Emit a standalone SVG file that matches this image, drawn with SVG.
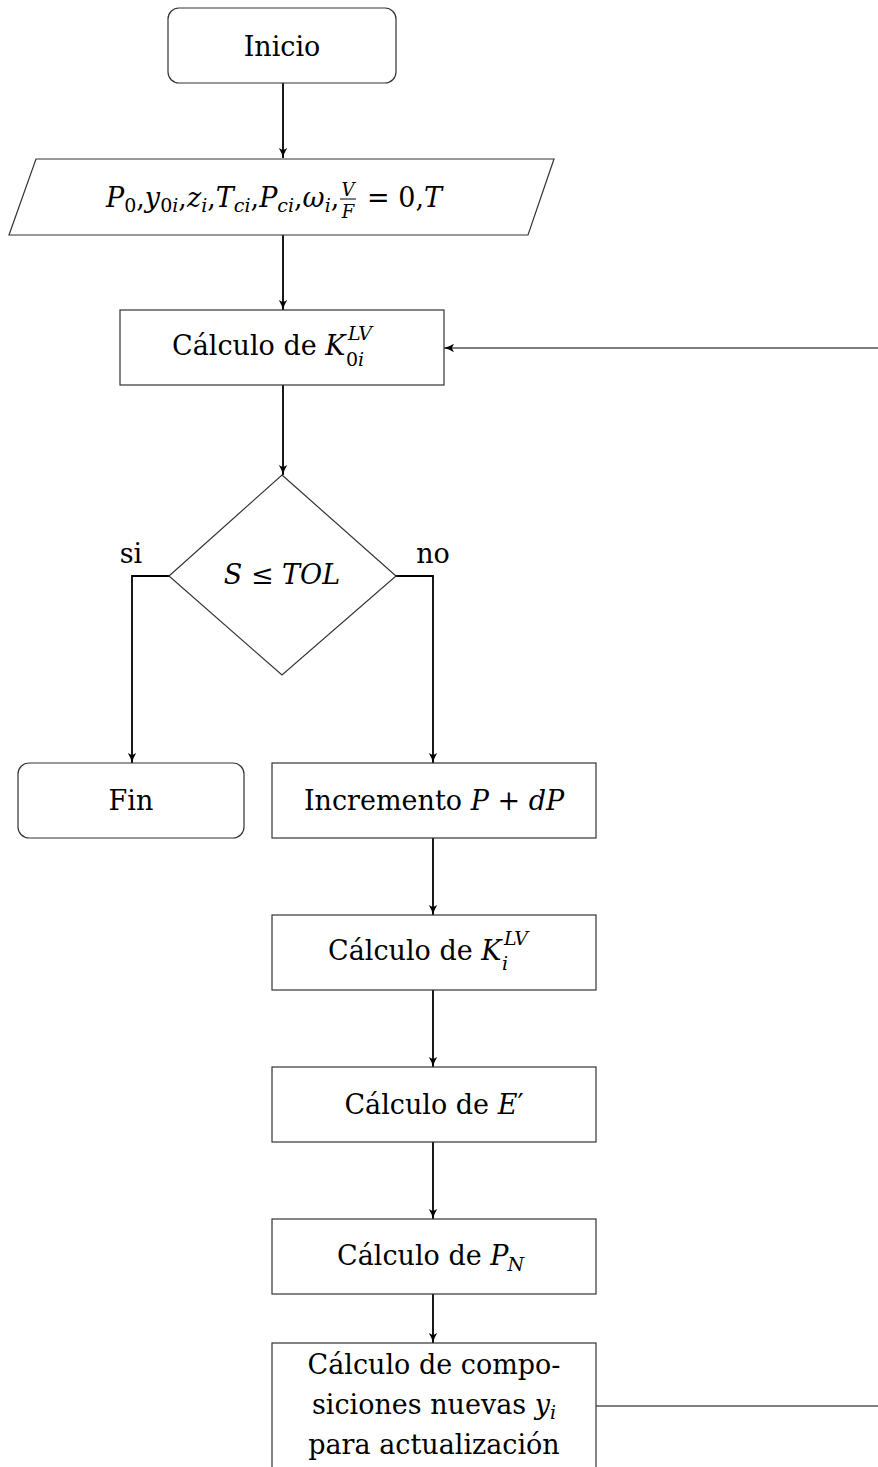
<svg xmlns="http://www.w3.org/2000/svg" width="878" height="1467" viewBox="0 0 878 1467" font-family="'DejaVu Serif', 'Liberation Serif', serif">
<style>
text{font-family:"DejaVu Serif","Liberation Serif",serif;font-size:27px;fill:#000}
.it{font-style:italic}
.sm{font-size:19px}
.xs{font-size:18px}
.node{fill:#fff;stroke:#333;stroke-width:1.2}
.conn{fill:none;stroke:#000;stroke-width:1.8}
.thin{fill:none;stroke:#000;stroke-width:1.2}
.mid{text-anchor:middle}
</style>
<defs>
<marker id="ah" viewBox="0 0 10 10" refX="10" refY="5" markerWidth="10" markerHeight="10" markerUnits="userSpaceOnUse" orient="auto">
<path d="M0,0.8 Q5,4 10,5 Q5,6 0,9.2 L2.2,5 Z" fill="#000"/>
</marker>
</defs>
<rect width="878" height="1467" fill="#fff"/>
<g id="connectors">
<line class="conn" x1="283" y1="83" x2="283" y2="158" marker-end="url(#ah)"/>
<line class="conn" x1="283" y1="235" x2="283" y2="310" marker-end="url(#ah)"/>
<line class="conn" x1="283" y1="385" x2="283" y2="475" marker-end="url(#ah)"/>
<polyline class="conn" points="169,576 132,576 132,763" marker-end="url(#ah)"/>
<polyline class="conn" points="396,576 433,576 433,763" marker-end="url(#ah)"/>
<line class="conn" x1="433" y1="838" x2="433" y2="915" marker-end="url(#ah)"/>
<line class="conn" x1="433" y1="990" x2="433" y2="1067" marker-end="url(#ah)"/>
<line class="conn" x1="433" y1="1142" x2="433" y2="1219" marker-end="url(#ah)"/>
<line class="conn" x1="433" y1="1294" x2="433" y2="1343" marker-end="url(#ah)"/>
<line class="thin" x1="596" y1="1406" x2="878" y2="1406"/>
<line class="thin" x1="878" y1="348" x2="444" y2="348" marker-end="url(#ah)"/>
</g>
<g id="inicio">
<rect class="node" x="168" y="8" width="228" height="75" rx="11"/>
<text class="mid" x="282" y="56">Inicio</text>
</g>
<g id="datos">
<polygon class="node" points="36,159 554,159 528,235 9,235"/>
<text x="106" y="207"><tspan class="it">P</tspan><tspan class="sm" dy="5">0</tspan><tspan dy="-5">,</tspan><tspan class="it">y</tspan><tspan class="sm" dy="5">0<tspan class="it">i</tspan></tspan><tspan dy="-5">,</tspan><tspan class="it">z</tspan><tspan class="sm it" dy="5">i</tspan><tspan dy="-5">,</tspan><tspan class="it">T</tspan><tspan class="sm it" dy="5">ci</tspan><tspan dy="-5">,</tspan><tspan class="it">P</tspan><tspan class="sm it" dy="5">ci</tspan><tspan dy="-5">,</tspan><tspan class="it">ω</tspan><tspan class="sm it" dy="5">i</tspan><tspan dy="-5">,</tspan></text>
<text class="xs it mid" x="348" y="196">V</text>
<line x1="340" y1="199" x2="356" y2="199" stroke="#000" stroke-width="1"/>
<text class="xs it mid" x="348" y="218">F</text>
<text x="367" y="207">= 0,<tspan class="it">T</tspan></text>
</g>
<g id="k0i">
<rect class="node" x="120" y="310" width="324" height="75"/>
<text x="172" y="355">Cálculo de <tspan class="it">K</tspan><tspan class="sm it" x="348" y="340">LV</tspan><tspan class="sm" x="346" y="366">0<tspan class="it">i</tspan></tspan></text>
</g>
<g id="decision">
<polygon class="node" points="282,475 396,576 282,675 169,576"/>
<text x="282" y="584" class="mid"><tspan class="it">S</tspan> ≤ <tspan class="it">TOL</tspan></text>
</g>
<text x="131" y="563" class="mid">si</text>
<text x="433" y="563" class="mid">no</text>
<g id="fin">
<rect class="node" x="18" y="763" width="226" height="75" rx="11"/>
<text class="mid" x="131" y="810">Fin</text>
</g>
<g id="incremento">
<rect class="node" x="272" y="763" width="324" height="75"/>
<text class="mid" x="434" y="810">Incremento <tspan class="it">P</tspan> + <tspan class="it">dP</tspan></text>
</g>
<g id="ki">
<rect class="node" x="272" y="915" width="324" height="75"/>
<text x="328" y="960">Cálculo de <tspan class="it">K</tspan><tspan class="sm it" x="504" y="945">LV</tspan><tspan class="sm it" x="502" y="970">i</tspan></text>
</g>
<g id="eprima">
<rect class="node" x="272" y="1067" width="324" height="75"/>
<text class="mid" x="434" y="1114">Cálculo de <tspan class="it">E</tspan>′</text>
</g>
<g id="pn">
<rect class="node" x="272" y="1219" width="324" height="75"/>
<text x="337" y="1265">Cálculo de <tspan class="it">P</tspan><tspan class="sm it" dy="6" dx="-1">N</tspan></text>
</g>
<g id="composiciones">
<rect class="node" x="272" y="1343" width="324" height="140"/>
<text class="mid" x="434" y="1374">Cálculo de compo-</text>
<text class="mid" x="434" y="1414">siciones nuevas <tspan class="it">y</tspan><tspan class="sm it" dy="5">i</tspan></text>
<text class="mid" x="434" y="1454">para actualización</text>
</g>
</svg>
